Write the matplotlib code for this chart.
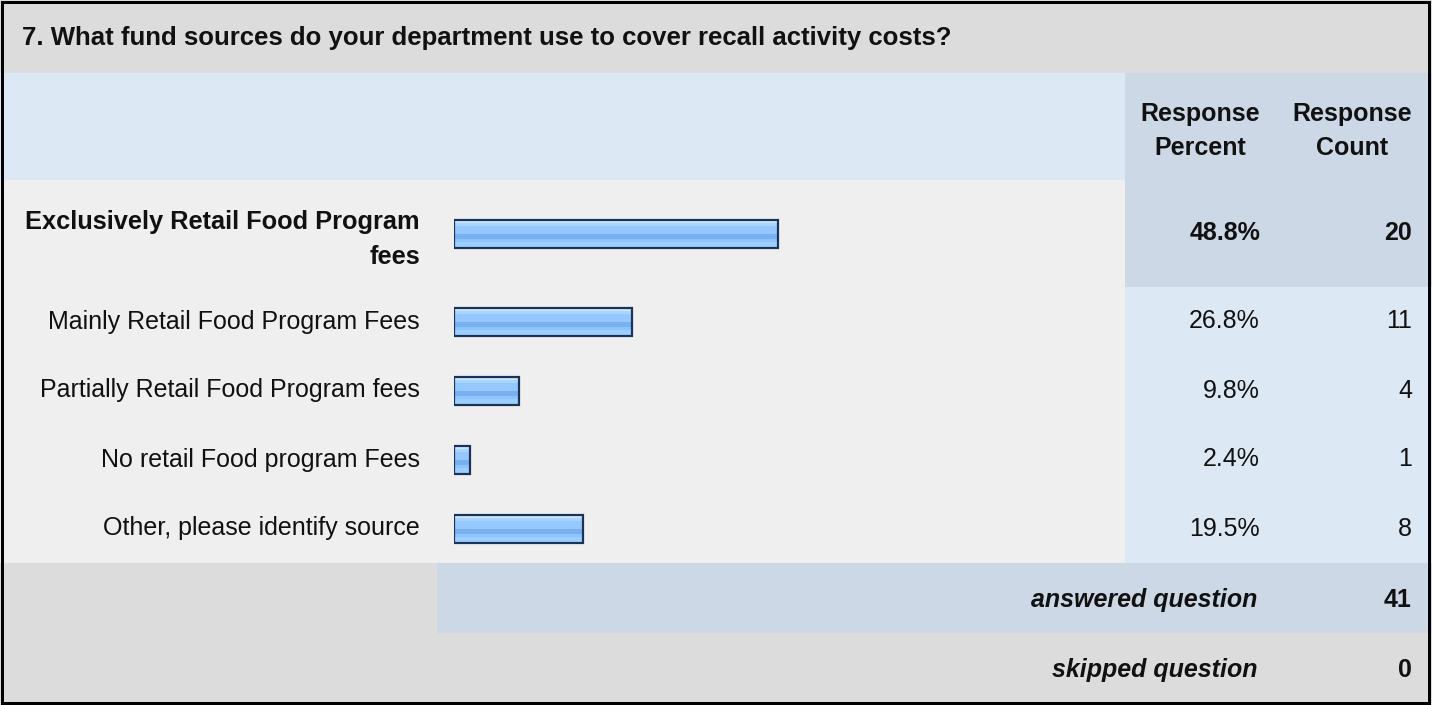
import matplotlib
matplotlib.use("Agg")
import matplotlib.pyplot as plt
from matplotlib.patches import Rectangle

# ---------------- data ----------------
title = "7. What fund sources do your department use to cover recall activity costs?"
categories = [
    "Exclusively Retail Food Program\nfees",
    "Mainly Retail Food Program Fees",
    "Partially Retail Food Program fees",
    "No retail Food program Fees",
    "Other, please identify source",
]
percents = [48.8, 26.8, 9.8, 2.4, 19.5]
counts = [20, 11, 4, 1, 8]
answered = 41
skipped = 0
col_headers = ["Response\nPercent", "Response\nCount"]

# ---------------- style / layout ----------------
W, H = 1432, 705
DPI = 100
FONT = "Liberation Sans"
FS = 25 * 72 / DPI
FS_B1 = 25.4 * 72 / DPI
FS_T = 25.8 * 72 / DPI

GRAY = "#dcdcdc"
LBLUE = "#dde8f5"
DBLUE = "#cdd8e6"
ROWBG = "#efefef"
TXT = "#111111"

fig = plt.figure(figsize=(W / DPI, H / DPI), dpi=DPI)
ax = fig.add_axes([0, 0, 1, 1])
ax.set_xlim(0, W)
ax.set_ylim(H, 0)
ax.axis("off")

def rect(x0, y0, x1, y1, c):
    ax.add_patch(Rectangle((x0, y0), x1 - x0, y1 - y0, facecolor=c, edgecolor="none", zorder=0))

row_edges = [180, 287, 356, 425, 494, 563]
row_centers = [(row_edges[i] + row_edges[i + 1]) / 2 for i in range(len(categories))]

COL_PCT = 1125
rect(0, 0, W, 73, GRAY)
rect(0, 73, COL_PCT, 180, LBLUE)
rect(COL_PCT, 73, W, 180, DBLUE)
rect(0, 180, COL_PCT, 563, ROWBG)
rect(COL_PCT, 180, W, 287, DBLUE)
rect(COL_PCT, 287, W, 563, LBLUE)
rect(0, 563, W, 705, GRAY)
rect(437, 563, W, 633, DBLUE)

ax.text(22, 38, title, fontsize=FS_T, fontweight="bold", family=FONT, color=TXT,
        ha="left", va="center")
ax.text(1200, 131, col_headers[0], fontsize=FS, fontweight="bold", family=FONT, color=TXT,
        ha="center", va="center", linespacing=1.5)
ax.text(1352, 131, col_headers[1], fontsize=FS, fontweight="bold", family=FONT, color=TXT,
        ha="center", va="center", linespacing=1.5)

for i, (cat, p, c) in enumerate(zip(categories, percents, counts)):
    w = "bold" if i == 0 else "normal"
    yc = row_centers[i]
    ax.text(420, yc + 6 if i == 0 else yc, cat, fontsize=FS_B1 if i == 0 else FS,
            fontweight=w, family=FONT, color=TXT,
            ha="right", va="center", multialignment="right", linespacing=1.55)
    ax.text(1260, yc, f"{p:.1f}%", fontsize=FS, fontweight=w, family=FONT, color=TXT,
            ha="right", va="center")
    ax.text(1412, yc, f"{c}", fontsize=FS, fontweight=w, family=FONT, color=TXT,
            ha="right", va="center")

ax.text(1257, 600, "answered question", fontsize=FS, fontweight="bold", fontstyle="italic",
        family=FONT, color=TXT, ha="right", va="center")
ax.text(1412, 600, f"{answered}", fontsize=FS, fontweight="bold", family=FONT, color=TXT,
        ha="right", va="center")
ax.text(1257, 670, "skipped question", fontsize=FS, fontweight="bold", fontstyle="italic",
        family=FONT, color=TXT, ha="right", va="center")
ax.text(1412, 670, f"{skipped}", fontsize=FS, fontweight="bold", family=FONT, color=TXT,
        ha="right", va="center")

ax.add_patch(Rectangle((1.5, 1.5), W - 4.5, H - 3.5, facecolor="none", edgecolor="black",
                       linewidth=3 * 72 / DPI, zorder=10))

# ---------------- bars (percent scale) ----------------
BX0, BX1 = 454, 1118  # 0% .. 100%
bax = fig.add_axes([BX0 / W, 0, (BX1 - BX0) / W, 1])
bax.set_xlim(0, 100)
bax.set_ylim(H, 0)
bax.axis("off")
bax.patch.set_alpha(0)

BAR_H = 28
stripes = [(3, "#cce6ff"), (3, "#a8d4ff"), (8, "#94c8ff"), (5, "#78b0f0"), (3, "#8cc4ff"), (6, "#9ccfff")]
tot = sum(s for s, _ in stripes)
for yc, p in zip(row_centers, percents):
    top = yc - BAR_H / 2
    acc = 0
    for s, col in stripes:
        hgt = BAR_H * s / tot
        bax.barh(top + acc + hgt / 2, p, height=hgt, left=0, color=col, edgecolor="none", zorder=2)
        acc += hgt
bax.barh(row_centers, percents, height=BAR_H, left=0, fill=False,
         edgecolor="#1a3358", linewidth=2.2 * 72 / DPI, zorder=3)

fig.savefig("out.png", dpi=DPI)
